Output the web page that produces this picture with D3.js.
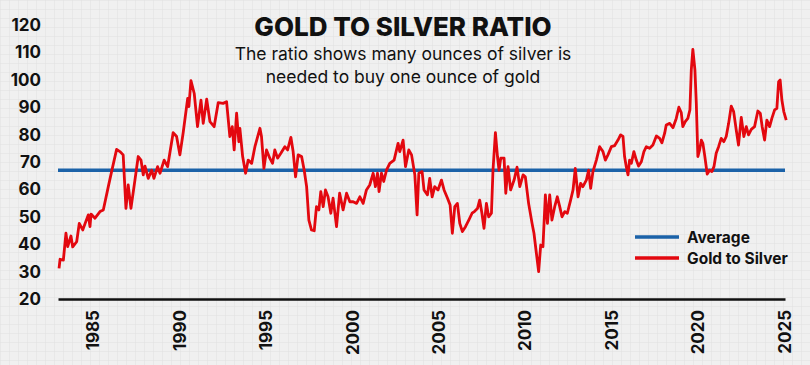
<!DOCTYPE html>
<html>
<head>
<meta charset="utf-8">
<script src="https://cdn.jsdelivr.net/npm/d3@7"></script>
<style>
  html, body { margin: 0; padding: 0; background: #efefef; }
  svg { display: block; font-family: Inter, "Open Sans", sans-serif; }
</style>
</head>
<body>
<div class="diagram-canvas"></div>
<script>
// decimal years and gold/silver ratio
let years = [
  1983.06, 1983.12, 1983.31, 1983.46, 1983.56, 1983.75, 1983.85, 1984.08, 1984.23, 1984.43,
  1984.75, 1984.85, 1984.91, 1985.14, 1985.43, 1985.62, 1985.91, 1986.10, 1986.39, 1986.58,
  1986.77, 1986.93, 1987.06, 1987.22, 1987.45, 1987.64, 1987.80, 1987.93, 1988.03, 1988.22,
  1988.42, 1988.55, 1988.76, 1988.90, 1989.14, 1989.34, 1989.66, 1989.86, 1990.05, 1990.24,
  1990.50, 1990.57, 1990.69, 1990.88, 1991.07, 1991.27, 1991.40, 1991.60, 1991.79, 1992.03,
  1992.27, 1992.55, 1992.75, 1992.94, 1993.08, 1993.19, 1993.33, 1993.46, 1993.52, 1993.68,
  1993.85, 1994.00, 1994.20, 1994.39, 1994.68, 1994.77, 1994.91, 1995.06, 1995.25, 1995.41,
  1995.54, 1995.70, 1995.89, 1996.12, 1996.28, 1996.47, 1996.60, 1996.74, 1996.89, 1997.09,
  1997.24, 1997.38, 1997.51, 1997.66, 1997.82, 1997.95, 1998.09, 1998.20, 1998.34, 1998.47,
  1998.62, 1998.78, 1998.91, 1999.11, 1999.29, 1999.49, 1999.69, 1999.88, 2000.07, 2000.27,
  2000.46, 2000.65, 2000.84, 2001.03, 2001.23, 2001.36, 2001.48, 2001.57, 2001.71, 2001.84,
  2002.00, 2002.19, 2002.44, 2002.67, 2002.77, 2002.96, 2003.10, 2003.29, 2003.45, 2003.64,
  2003.77, 2003.87, 2004.06, 2004.17, 2004.37, 2004.50, 2004.64, 2004.79, 2004.98, 2005.18,
  2005.33, 2005.53, 2005.68, 2005.81, 2005.95, 2006.10, 2006.24, 2006.39, 2006.57, 2006.76,
  2006.95, 2007.10, 2007.26, 2007.39, 2007.52, 2007.64, 2007.78, 2007.91, 2008.07, 2008.16,
  2008.30, 2008.42, 2008.51, 2008.61, 2008.80, 2008.90, 2009.03, 2009.18, 2009.38, 2009.55,
  2009.71, 2009.90, 2010.03, 2010.22, 2010.42, 2010.53, 2010.67, 2010.80, 2010.92, 2011.05,
  2011.19, 2011.31, 2011.44, 2011.57, 2011.73, 2011.88, 2012.02, 2012.15, 2012.31, 2012.46,
  2012.65, 2012.79, 2012.92, 2013.08, 2013.23, 2013.36, 2013.56, 2013.69, 2013.81, 2013.94,
  2014.14, 2014.33, 2014.52, 2014.66, 2014.81, 2015.01, 2015.20, 2015.39, 2015.54, 2015.68,
  2015.77, 2015.87, 2015.97, 2016.06, 2016.16, 2016.31, 2016.45, 2016.58, 2016.74, 2016.89,
  2017.03, 2017.22, 2017.41, 2017.61, 2017.80, 2017.93, 2018.09, 2018.18, 2018.38, 2018.57,
  2018.76, 2018.91, 2019.05, 2019.14, 2019.28, 2019.43, 2019.55, 2019.63, 2019.72, 2019.84,
  2019.92, 2020.01, 2020.11, 2020.21, 2020.30, 2020.40, 2020.55, 2020.69, 2020.82, 2020.94,
  2021.07, 2021.21, 2021.36, 2021.51, 2021.65, 2021.79, 2021.94, 2022.08, 2022.23, 2022.36,
  2022.52, 2022.67, 2022.81, 2022.94, 2023.10, 2023.29, 2023.48, 2023.62, 2023.73, 2023.87,
  2024.00, 2024.16, 2024.29, 2024.45, 2024.58, 2024.68, 2024.77, 2024.87, 2024.98, 2025.12
];

let ratios = [
  31.2, 34.5, 34.2, 44.0, 39.1, 43.0, 39.0, 40.9, 47.6, 45.2,
  50.7, 46.4, 51.0, 49.5, 51.9, 52.5, 61.0, 66.5, 74.6, 73.8,
  72.6, 53.1, 61.6, 53.1, 63.4, 72.0, 70.7, 65.3, 68.5, 64.0,
  67.0, 64.0, 68.3, 65.9, 70.7, 68.3, 80.7, 79.3, 72.6, 80.7,
  93.2, 90.2, 99.7, 95.0, 82.9, 92.6, 84.1, 92.9, 84.7, 82.9,
  91.7, 91.4, 92.0, 79.3, 82.9, 74.4, 87.8, 77.4, 82.3, 72.0,
  65.9, 70.7, 69.5, 75.6, 82.3, 79.3, 67.7, 74.4, 71.4, 69.5,
  74.4, 71.4, 73.2, 75.6, 74.4, 79.0, 73.8, 64.6, 72.6, 72.0,
  67.0, 61.0, 48.8, 45.2, 44.9, 53.7, 52.5, 59.2, 53.7, 59.8,
  57.3, 51.3, 56.8, 46.4, 58.6, 52.5, 58.6, 55.5, 55.5, 54.9,
  57.3, 54.9, 59.8, 61.6, 65.9, 61.0, 65.9, 59.2, 65.9, 62.9,
  67.0, 69.5, 70.7, 76.8, 73.8, 78.0, 68.3, 74.4, 72.6, 65.3,
  50.7, 65.9, 66.5, 59.8, 58.0, 64.0, 57.3, 61.0, 59.8, 63.4,
  59.8, 56.8, 54.3, 44.0, 53.7, 54.9, 47.6, 44.6, 46.4, 48.8,
  51.3, 52.0, 53.0, 56.1, 51.3, 45.8, 54.9, 50.0, 51.3, 67.0,
  80.7, 72.0, 67.0, 71.4, 71.4, 58.6, 68.3, 59.8, 63.4, 68.1,
  61.0, 65.3, 64.6, 54.9, 47.6, 44.0, 36.7, 30.0, 39.7, 39.1,
  58.0, 47.6, 58.0, 48.8, 53.7, 57.3, 53.7, 50.0, 51.9, 51.3,
  56.1, 59.8, 67.7, 57.3, 62.2, 61.0, 63.4, 67.0, 60.4, 66.5,
  70.7, 75.6, 73.8, 70.7, 72.6, 75.6, 76.0, 78.0, 79.9, 79.3,
  72.0, 68.3, 65.3, 70.7, 69.5, 73.8, 70.7, 68.5, 70.1, 73.8,
  75.6, 75.0, 76.2, 79.5, 78.6, 77.0, 80.5, 83.5, 84.1, 82.5,
  85.9, 90.0, 88.0, 82.9, 84.7, 85.9, 89.0, 103.6, 111.1, 103.6,
  91.4, 72.0, 74.4, 78.0, 76.8, 72.6, 65.6, 67.0, 66.5, 68.3,
  73.2, 75.6, 78.6, 77.4, 79.3, 84.1, 90.4, 88.4, 81.7, 76.2,
  86.3, 79.3, 82.9, 79.9, 81.9, 82.9, 88.6, 87.8, 82.9, 78.0,
  85.3, 82.9, 85.9, 89.0, 89.6, 99.3, 99.9, 92.6, 88.4, 85.3
];

let averageRatio = 67;
let yTicks = [20, 30, 40, 50, 60, 70, 80, 90, 100, 110, 120];
let xTicks = [1985, 1990, 1995, 2000, 2005, 2010, 2015, 2020, 2025];
let legendLabels = ["Average", "Gold to Silver"];

let width = 810,
  height = 365,
  padLeft = 58,
  padRight = 785,
  padTop = 25,
  padBottom = 299,
  red = "#e3080f",
  blue = "#1b62a8";

let svg = d3
  .select(".diagram-canvas")
  .append("svg")
  .attr("width", width)
  .attr("height", height);

// graph paper background
let defs = svg.append("defs");
let pattern = defs
  .append("pattern")
  .attr("id", "grid")
  .attr("width", 9)
  .attr("height", 9)
  .attr("patternUnits", "userSpaceOnUse");
pattern.append("rect").attr("width", 9).attr("height", 9).attr("fill", "#f0f0f0");
pattern
  .append("path")
  .attr("d", "M9 0 L0 0 0 9")
  .attr("fill", "none")
  .attr("stroke", "#e1e1e1")
  .attr("stroke-width", 1);
svg.append("rect").attr("width", width).attr("height", height).attr("fill", "url(#grid)");

let xScale = d3.scaleLinear().domain([1983, 2025.05]).range([padLeft, padRight]);
let yScale = d3.scaleLinear().domain([20, 120]).range([padBottom, padTop]);

// y axis: labels only
let yAxis = d3.axisLeft(yScale).tickValues(yTicks).tickSize(0).tickPadding(0);
let gy = svg
  .append("g")
  .attr("transform", "translate(41,0)")
  .call(yAxis);
gy.select(".domain").remove();
gy.selectAll("text")
  .attr("font-family", "Inter, sans-serif")
  .attr("font-size", 17)
  .attr("font-weight", 700)
  .attr("fill", "#111");

// x axis
let xAxis = d3.axisBottom(xScale).tickValues(xTicks).tickFormat(d3.format("d")).tickSize(0);
let gx = svg
  .append("g")
  .attr("transform", "translate(0," + padBottom + ")")
  .call(xAxis);
gx.select(".domain").attr("stroke", "#111").attr("stroke-width", 2.5);
gx.selectAll("text")
  .attr("font-family", "Inter, sans-serif")
  .attr("font-size", 17)
  .attr("font-weight", 700)
  .attr("fill", "#111")
  .attr("text-anchor", "end")
  .attr("transform", "rotate(-90)")
  .attr("x", -11)
  .attr("y", 0)
  .attr("dy", "0.36em");

// average line
svg
  .append("line")
  .attr("x1", xScale(1983))
  .attr("x2", xScale(2025.05))
  .attr("y1", yScale(averageRatio))
  .attr("y2", yScale(averageRatio))
  .attr("stroke", blue)
  .attr("stroke-width", 3.5);

// ratio line
let line = d3
  .line()
  .x((d, i) => xScale(years[i]))
  .y((d) => yScale(d));

svg
  .append("path")
  .attr("d", line(ratios))
  .attr("fill", "none")
  .attr("stroke", red)
  .attr("stroke-width", 2.8)
  .attr("stroke-linejoin", "round");

// title
svg
  .append("text")
  .attr("x", 403)
  .attr("y", 36)
  .attr("text-anchor", "middle")
  .attr("font-size", 26)
  .attr("font-weight", 800)
  .attr("fill", "#111")
  .text("GOLD TO SILVER RATIO");

let subtitle = ["The ratio shows many ounces of silver is", "needed to buy one ounce of gold"];
svg
  .selectAll(".subtitle")
  .data(subtitle)
  .enter()
  .append("text")
  .attr("class", "subtitle")
  .attr("x", 403)
  .attr("y", (d, i) => 60 + i * 23)
  .attr("text-anchor", "middle")
  .attr("font-size", 17.5)
  .attr("fill", "#111")
  .text((d) => d);

// legend
let legend = svg
  .selectAll(".legend")
  .data(legendLabels)
  .enter()
  .append("g")
  .attr("class", "legend")
  .attr("transform", (d, i) => "translate(635," + (237 + i * 21) + ")");
legend
  .append("line")
  .attr("x1", 0)
  .attr("x2", 44)
  .attr("stroke", (d, i) => (i === 0 ? blue : red))
  .attr("stroke-width", 3.5);
legend
  .append("text")
  .attr("x", 52)
  .attr("dy", "0.36em")
  .attr("font-size", 15.5)
  .attr("font-weight", 700)
  .attr("fill", "#111")
  .text((d) => d);
</script>
</body>
</html>
